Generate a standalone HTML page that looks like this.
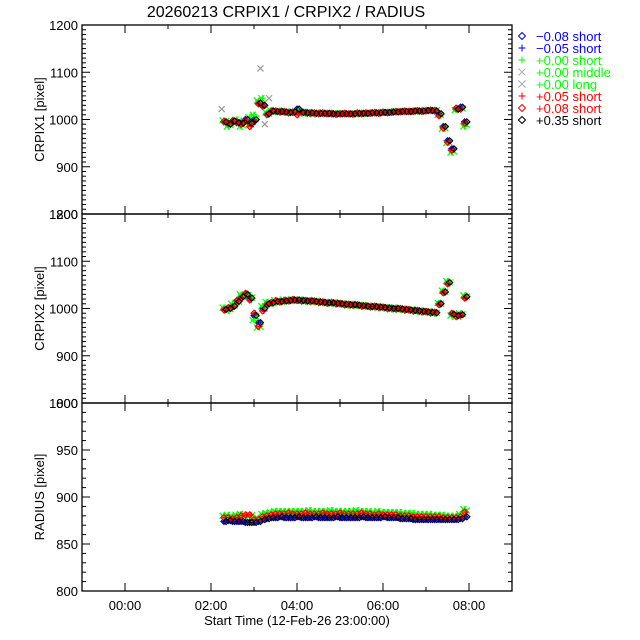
<!DOCTYPE html>
<html><head><meta charset="utf-8"><style>
body{margin:0;background:#fff;}
svg{display:block;font-family:"Liberation Sans",sans-serif;}
</style></head><body>
<svg id="chart" width="640" height="640" viewBox="0 0 640 640" xmlns="http://www.w3.org/2000/svg">
<text x="286" y="17" text-anchor="middle" font-size="16" fill="#000">20260213 CRPIX1 / CRPIX2 / RADIUS</text>
<g id="panels"></g>
<g id="legend"></g>
<text x="297" y="625" text-anchor="middle" font-size="13" fill="#000">Start Time (12-Feb-26 23:00:00)</text>
</svg>
<script>
const times = [2.3,2.4,2.5,2.6,2.7,2.8,2.9,3.0,3.1,3.2,3.3,3.4,3.5,3.6,3.7,3.8,3.9,4.0,
4.1,4.2,4.3,4.4,4.5,4.6,4.7,4.8,4.9,5.0,5.1,5.2,5.3,5.4,5.5,5.6,5.7,5.8,5.9,6.0,6.1,6.2,6.3,6.4,6.5,6.6,6.7,6.8,6.9,7.0,7.1,7.2,
7.3,7.4,7.5,7.6,7.7,7.8,7.9];
const xTickLabels = ["00:00","02:00","04:00","06:00","08:00"];
const xTickHours = [0,2,4,6,8];

const crpix1Black = [995,990,997,993,992,1000,992,1000,1035,1030,1012,1018,1017,1017,1016,1015,1016,1022,
1015,1014,1014,1013,1013,1013,1013,1012,1012,1012,1012,1012,1012,1013,1013,1013,1014,1014,1014,1015,1015,1016,1016,1017,1017,1017,1018,1018,1018,1019,1019,1018,
1012,985,955,938,1022,1026,995];
const crpix1Green = [998,985,992,1000,985,995,1005,1010,1040,1045,1015,1020,1016,1019,1014,1017,1014,1018,
1017,1012,1016,1011,1015,1014,1011,1014,1010,1013,1014,1011,1013,1011,1014,1012,1015,1013,1016,1014,1016,1015,1018,1016,1018,1016,1019,1017,1019,1020,1018,1020,
1010,980,950,930,1020,1024,985];
const crpix1Red = [996,992,995,995,990,998,985,995,1033,1028,1010,1017,1018,1016,1017,1014,1015,1010,
1016,1015,1013,1014,1012,1014,1012,1013,1011,1012,1013,1012,1011,1014,1012,1014,1013,1015,1013,1016,1014,1015,1017,1016,1018,1017,1017,1019,1017,1018,1020,1019,
1008,982,952,935,1024,1022,992];
const crpix1Outliers = [[3.15,1108],[2.25,1022],[3.35,1045],[3.25,990]];

const crpix2Black = [998,1000,1005,1015,1025,1030,1022,985,970,1000,1010,1012,1015,1015,1016,1017,1018,1018,
1017,1016,1016,1015,1014,1013,1012,1012,1011,1010,1009,1008,1008,1007,1006,1005,1004,1004,1003,1002,1001,1000,1000,999,998,997,996,995,994,993,992,991,
1010,1035,1055,988,985,987,1025];
const crpix2Green = [1002,995,1010,1012,1030,1025,1028,975,960,1005,1014,1010,1018,1013,1019,1015,1020,1016,
1019,1014,1018,1013,1016,1011,1014,1010,1013,1008,1011,1006,1010,1005,1008,1003,1006,1002,1005,1000,1003,998,1002,997,1000,995,998,993,996,991,994,989,
1012,1038,1058,985,982,990,1028];
const crpix2Red = [997,1002,1003,1017,1022,1032,1018,990,962,995,1008,1013,1016,1014,1017,1016,1019,1017,
1016,1017,1015,1016,1013,1014,1011,1013,1010,1011,1008,1009,1007,1008,1005,1006,1003,1005,1002,1003,1000,1001,999,1000,997,998,995,996,993,994,991,992,
1008,1033,1052,990,983,986,1022];

const radiusBlack = [874,875,874,874,874,873,873,873,874,876,
877,878,878,879,878,878,878,879,878,878,
878,879,878,878,878,878,879,878,878,878,
878,878,879,878,878,878,878,879,878,878,
878,877,877,877,876,876,876,876,876,876,
876,876,876,876,876,877,879];
const radiusGreen = [880,881,879,881,882,880,880,876,878,882,
883,884,885,885,885,885,885,885,885,885,
886,885,885,885,885,886,885,885,885,885,
885,886,885,885,885,884,885,884,884,884,
884,884,883,883,883,882,882,882,882,881,
881,881,880,880,880,882,887];
const radiusRed = [878,878,877,878,880,881,881,876,876,879,
880,881,882,882,882,883,882,882,882,883,
882,882,882,883,882,882,882,883,882,882,
882,882,883,882,882,881,882,881,881,881,
881,880,880,880,879,879,879,879,879,879,
879,878,878,878,878,879,884];

const panels = [
 {name:"crpix1", top:25, bottom:214, min:800, max:1200, major:100, minor:10, labels:["800","900","1000","1100","1200"], title:"CRPIX1 [pixel]", black:crpix1Black, green:crpix1Green, red:crpix1Red, outliers:crpix1Outliers},
 {name:"crpix2", top:214, bottom:403, min:800, max:1200, major:100, minor:10, labels:["800","900","1000","1100","1200"], title:"CRPIX2 [pixel]", black:crpix2Black, green:crpix2Green, red:crpix2Red, outliers:[]},
 {name:"radius", top:403, bottom:591, min:800, max:1000, major:50, minor:10, labels:["800","850","900","950","1000"], title:"RADIUS [pixel]", black:radiusBlack, green:radiusGreen, red:radiusRed, outliers:[]}
];
const L=82, R=512, XMIN=-1, XMAX=9;
const NS="http://www.w3.org/2000/svg";
function xs(t){return L+(t-XMIN)/(XMAX-XMIN)*(R-L);}
function mk(tag,attrs,parent){const e=document.createElementNS(NS,tag);for(const k in attrs)e.setAttribute(k,attrs[k]);parent.appendChild(e);return e;}
function marker(g,type,x,y,color){
 const s=3;let d;
 if(type==="plus") d=`M${x-s} ${y}H${x+s}M${x} ${y-s}V${y+s}`;
 else if(type==="x") d=`M${x-s} ${y-s}L${x+s} ${y+s}M${x-s} ${y+s}L${x+s} ${y-s}`;
 else d=`M${x} ${y-s}L${x+s} ${y}L${x} ${y+s}L${x-s} ${y}Z`;
 const p=mk("path",{d:d,stroke:color,fill:"none","stroke-width":1.2},g);
 
 
}
const root=document.getElementById("panels");
panels.forEach(P=>{
 const g=mk("g",{},root);
 
 
 const ys=v=>P.bottom-(v-P.min)/(P.max-P.min)*(P.bottom-P.top);
 const ax=mk("rect",{x:L,y:P.top,width:R-L,height:P.bottom-P.top,fill:"none",stroke:"#000","stroke-width":1.3},g);
 
 
 for(let v=P.min;v<=P.max+0.01;v+=P.minor){
  const y=ys(v);const len=((v-P.min)%P.major===0)?8:4;
  mk("line",{x1:L,x2:L+len,y1:y,y2:y,stroke:"#000"},g);
  mk("line",{x1:R,x2:R-len,y1:y,y2:y,stroke:"#000"},g);
 }
 P.labels.forEach((lab,i)=>{
  const t=mk("text",{x:L-4,y:ys(P.min+i*P.major)+5,"text-anchor":"end","font-size":13,fill:"#000"},g);
  t.textContent=lab;
  
  
 });
 for(let h=XMIN;h<=XMAX;h++){
  const x=xs(h);const len=(h%2===0)?8:4;
  mk("line",{x1:x,x2:x,y1:P.bottom,y2:P.bottom-len,stroke:"#000"},g);
  mk("line",{x1:x,x2:x,y1:P.top,y2:P.top+len,stroke:"#000"},g);
 }
 const yt=mk("text",{x:0,y:0,transform:`translate(44,${(P.top+P.bottom)/2}) rotate(-90)`,"text-anchor":"middle","font-size":13,fill:"#000"},g);
 yt.textContent=P.title;
 
 
 const dg=mk("g",{},g);
 
 
 times.forEach((t,i)=>{marker(dg,"diamond",xs(t),ys(P.black[i]),"#0000ff");marker(dg,"plus",xs(t),ys(P.black[i]),"#0000ff");});
 times.forEach((t,i)=>{marker(dg,"plus",xs(t),ys(P.green[i]),"#00ff00");marker(dg,"x",xs(t+0.05),ys((P.green[i]+P.red[i])/2),"#00ff00");marker(dg,"x",xs(t-0.03),ys(P.green[i]),"#00ff00");});
 P.outliers.forEach(o=>marker(dg,"x",xs(o[0]),ys(o[1]),"#999999"));
 times.forEach((t,i)=>{marker(dg,"plus",xs(t+0.03),ys(P.red[i]),"#ff0000");marker(dg,"diamond",xs(t),ys(P.red[i]),"#ff0000");});
 times.forEach((t,i)=>{marker(dg,"diamond",xs(t+0.05),ys(P.black[i]),"#000000");});
});
xTickLabels.forEach((lab,i)=>{
 const t=mk("text",{x:xs(xTickHours[i]),y:610,"text-anchor":"middle","font-size":13,fill:"#000"},document.getElementById("chart"));
 t.textContent=lab;
 
 
});
const legendLabels=["\u22120.08 short","\u22120.05 short","+0.00 short","+0.00 middle","+0.00 long","+0.05 short","+0.08 short","+0.35 short"];
const legendColors=["#0000ff","#0000ff","#00ff00","#00ff00","#00ff00","#ff0000","#ff0000","#000000"];
const legendSyms=["diamond","plus","plus","x","x","plus","diamond","diamond"];
const lg=document.getElementById("legend");
legendLabels.forEach((lab,i)=>{
 const y=36+i*12;
 const g=mk("g",{},lg);
 
 
 const s=legendSyms[i]==="x"?"#aaaaaa":legendColors[i];
 const sz=3.5;let d;
 const x=522;
 if(legendSyms[i]==="plus") d=`M${x-sz} ${y}H${x+sz}M${x} ${y-sz}V${y+sz}`;
 else if(legendSyms[i]==="x") d=`M${x-sz} ${y-sz}L${x+sz} ${y+sz}M${x-sz} ${y+sz}L${x+sz} ${y-sz}`;
 else d=`M${x} ${y-sz}L${x+sz} ${y}L${x} ${y+sz}L${x-sz} ${y}Z`;
 mk("path",{d:d,stroke:s,fill:"none"},g);
 const t=mk("text",{x:536,y:y+5,"font-size":13,fill:legendColors[i]},g);
 t.textContent=lab;
});
</script>
</body></html>
